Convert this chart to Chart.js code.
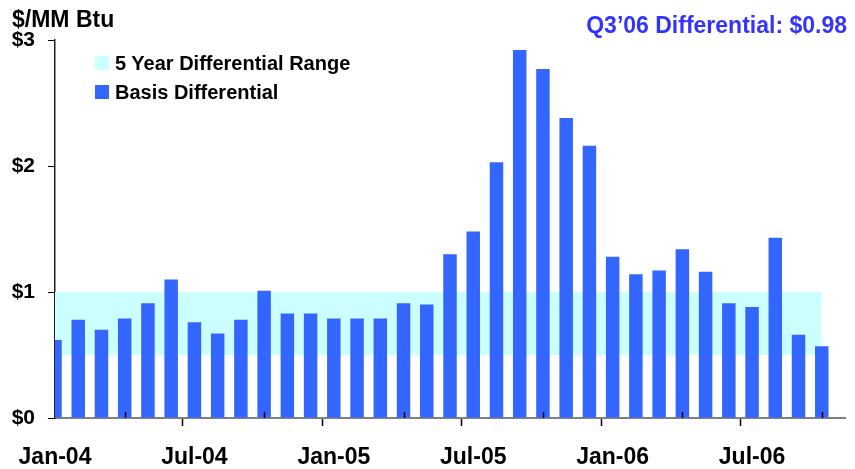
<!DOCTYPE html>
<html>
<head>
<meta charset="utf-8">
<script src="https://cdn.jsdelivr.net/npm/chart.js@4"></script>
<style>
    html, body { margin: 0; padding: 0; background: #fff; }
    #wrap { position: relative; width: 855px; height: 469px; }
    .txt { position: absolute; font-family: 'Liberation Sans', Arial, sans-serif; font-weight: bold; line-height: 1; white-space: nowrap; }
    .key { position: absolute; width: 14px; height: 14px; }
</style>
</head>
<body>
<div id="wrap">
    <canvas id="basisChart" width="855" height="469"></canvas>
    <div class="txt" style="left:12px; top:8px; font-size:23px; color:#000;">$/MM Btu</div>
    <div class="txt" style="right:8px; top:14px; font-size:23px; color:#3333ff;">Q3’06 Differential: $0.98</div>
    <div class="key" style="left:95px; top:56px; background:#ccffff;"></div>
    <div class="txt" style="left:115px; top:53px; font-size:20px; color:#000;">5 Year Differential Range</div>
    <div class="key" style="left:95px; top:85px; background:#3366ff;"></div>
    <div class="txt" style="left:115px; top:82px; font-size:20px; color:#000;">Basis Differential</div>
</div>
<script>
const months = ['Jan-04', 'Feb-04', 'Mar-04', 'Apr-04', 'May-04', 'Jun-04',
    'Jul-04', 'Aug-04', 'Sep-04', 'Oct-04', 'Nov-04', 'Dec-04',
    'Jan-05', 'Feb-05', 'Mar-05', 'Apr-05', 'May-05', 'Jun-05',
    'Jul-05', 'Aug-05', 'Sep-05', 'Oct-05', 'Nov-05', 'Dec-05',
    'Jan-06', 'Feb-06', 'Mar-06', 'Apr-06', 'May-06', 'Jun-06',
    'Jul-06', 'Aug-06', 'Sep-06', 'Oct-06', 'Nov-06']

const basis = [0.62, 0.78, 0.70, 0.79, 0.91, 1.10,
    0.76, 0.67, 0.78, 1.01, 0.83, 0.83,
    0.79, 0.79, 0.79, 0.91, 0.90, 1.30,
    1.48, 2.03, 2.92, 2.77, 2.38, 2.16,
    1.28, 1.14, 1.17, 1.34, 1.16, 0.91,
    0.88, 1.43, 0.66, 0.57]

// 5 year range, low and high
const rangeLow = 0.5
const rangeHigh = 1.0

const yTicks = [0, 1, 2, 3]

document.addEventListener('DOMContentLoaded', function () {
    const band = (v) => months.map((m, i) => i < basis.length ? v : null)

    // short inner ticks for Apr / Oct
    const innerTicks = {
        id: 'innerTicks',
        afterDatasetsDraw(chart) {
            const x = chart.scales.x
            const ctx = chart.ctx
            ctx.save()
            ctx.strokeStyle = '#000'
            ctx.lineWidth = 1.5
            months.forEach((m, i) => {
                if (i % 6 !== 3) return
                const px = Math.round(x.getPixelForValue(i)) + 0.5
                ctx.beginPath()
                ctx.moveTo(px, x.top)
                ctx.lineTo(px, x.top - 6)
                ctx.stroke()
            })
            ctx.restore()
        }
    }

    const data = {
        labels: months,
        datasets: [{
            type: 'bar',
            label: 'Basis Differential',
            data: basis,
            backgroundColor: '#3366ff',
            barPercentage: 0.58,
            categoryPercentage: 1,
            order: 0,
        }, {
            type: 'line',
            label: 'low',
            data: band(rangeLow),
            borderWidth: 0,
            pointRadius: 0,
            fill: false,
            order: 2,
        }, {
            type: 'line',
            label: '5 Year Differential Range',
            data: band(rangeHigh),
            borderWidth: 0,
            pointRadius: 0,
            backgroundColor: '#ccffff',
            fill: '-1',
            order: 1,
        }]
    };

    const config = {
        type: 'bar',
        data: data,
        plugins: [innerTicks],
        options: {
            responsive: false,
            animation: false,
            layout: { padding: { top: 40, right: 10, left: 0, bottom: 0 } },
            scales: {
                x: {
                    offset: false,
                    afterFit: (s) => {
                        s.height = 51
                        s.paddingLeft = 0
                        s.paddingRight = 0
                    },
                    border: { color: '#808080', width: 2 },
                    grid: {
                        drawOnChartArea: false,
                        tickLength: 8,
                        tickWidth: 1.5,
                        tickColor: (c) => c.index % 6 === 0 ? '#000' : 'rgba(0,0,0,0)',
                    },
                    ticks: {
                        autoSkip: false,
                        maxRotation: 0,
                        padding: 18,
                        color: '#000',
                        font: { family: 'Liberation Sans', size: 23, weight: 'bold' },
                        callback: (v, i) => i % 6 === 0 ? months[i] : '',
                    }
                },
                y: {
                    min: 0,
                    max: 3,
                    afterFit: (s) => { s.width = 55 },
                    afterBuildTicks: (s) => { s.ticks = yTicks.map(v => ({ value: v })) },
                    border: { color: '#222', width: 1.5 },
                    grid: {
                        drawOnChartArea: false,
                        tickLength: 7,
                        color: '#000',
                    },
                    ticks: {
                        padding: 13,
                        color: '#000',
                        font: { family: 'Liberation Sans', size: 21, weight: 'bold' },
                        callback: (v) => '$' + v,
                    }
                }
            },
            plugins: {
                legend: { display: false },
                tooltip: { enabled: false }
            }
        },
    };

    new Chart(document.getElementById('basisChart'), config);
});
</script>
</body>
</html>
